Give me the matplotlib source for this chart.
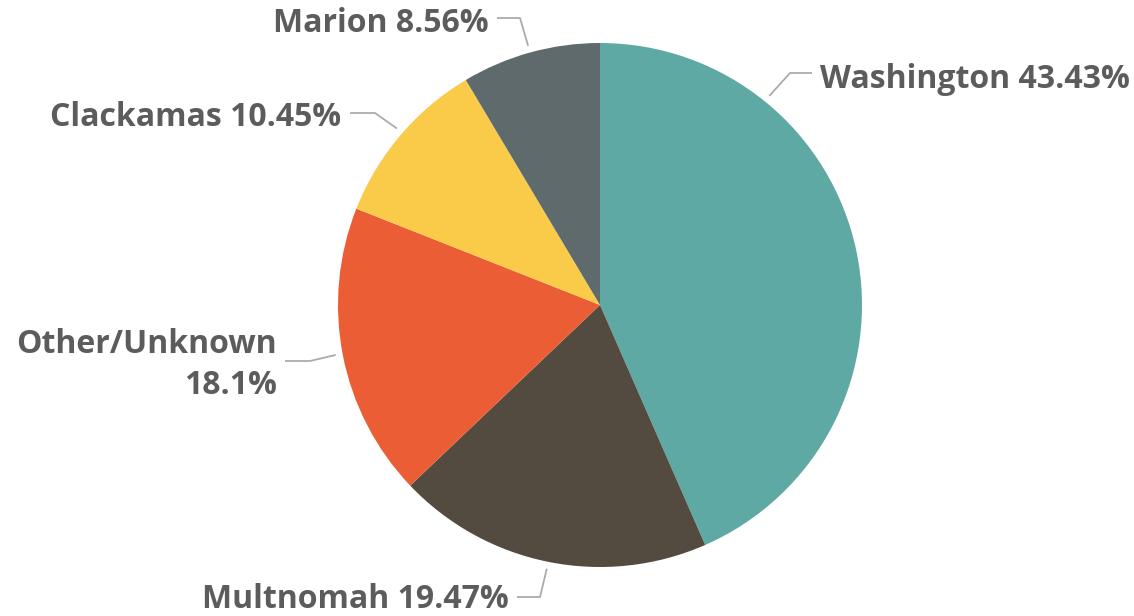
import numpy as np
import matplotlib
matplotlib.use("Agg")
from matplotlib import pyplot as plt

counties = ["Washington", "Multnomah", "Other/Unknown", "Clackamas", "Marion"]
shares = [43.43, 19.47, 18.1, 10.45, 8.56]
colors = ["#5FA9A4", "#534B40", "#EB5D35", "#F9CB48", "#5E6A6B"]
label_texts = ["Washington 43.43%", "Multnomah 19.47%", "Other/Unknown\n18.1%",
               "Clackamas 10.45%", "Marion 8.56%"]

# label layout in pixels: edge angle (deg), elbow, line end, text pos, alignment
layout = [
    (51, (790, 73), (812, 73), (820, 79), "left"),
    (258.6, (540, 597), (517, 597), (509, 599), "right"),
    (190.7, (310, 361), (285, 361), (277, 365), "right"),
    (139, (375, 113), (350, 113), (341, 118), "right"),
    (105.5, (520, 18), (497, 18), (489, 24), "right"),
]

W, H = 1134, 616
cx, cy, R = 600, 305, 262

plt.rcParams['font.family'] = ['Open Sans', 'DejaVu Sans']
fig = plt.figure(figsize=(W / 100, H / 100), dpi=100)
ax = fig.add_axes([0, 0, 1, 1])
ax.pie(shares, colors=colors, startangle=90, counterclock=False,
       center=(cx, H - cy), radius=R, wedgeprops=dict(linewidth=0))

for txt, (ang, elbow, end, tpos, ha) in zip(label_texts, layout):
    a = np.radians(ang)
    sx = cx + (R + 7) * np.cos(a)
    sy = cy - (R + 7) * np.sin(a)
    ax.plot([sx, elbow[0], end[0]], [H - sy, H - elbow[1], H - end[1]],
            color="#ABABAB", lw=1.3, solid_capstyle="butt")
    ax.text(tpos[0], H - tpos[1], txt, ha=ha, va="center", fontsize=23,
            fontweight="bold", color="#5C5C5C", linespacing=1.3,
            multialignment="right")

ax.set_xlim(0, W)
ax.set_ylim(0, H)
ax.set_aspect("equal")
ax.axis("off")
fig.savefig("out.png", dpi=100, facecolor="white")
